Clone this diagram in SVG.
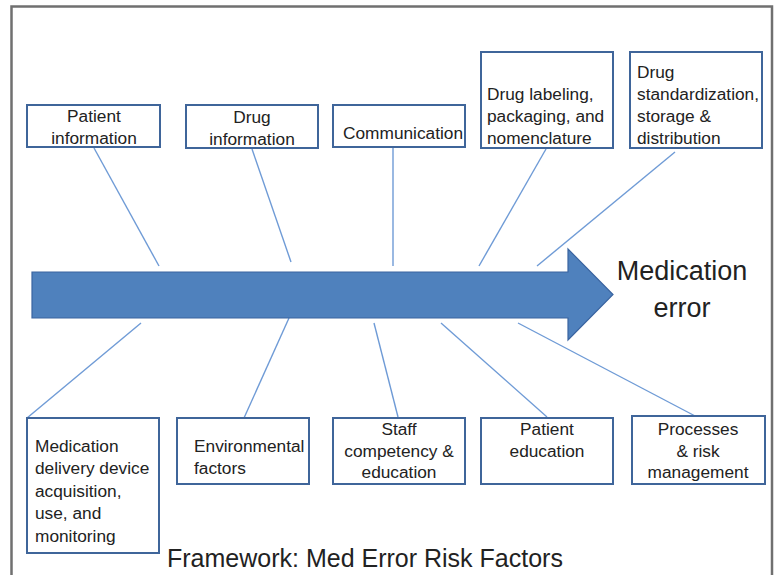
<svg xmlns="http://www.w3.org/2000/svg" width="776" height="575" viewBox="0 0 776 575">
<style>
.box{fill:#ffffff;stroke:#3f659a;stroke-width:2}
.t{font-family:"Liberation Sans",Arial,sans-serif;font-size:17.3px;fill:#222222}
.c{text-anchor:middle}
.ln{stroke:#6f9bd6;stroke-width:1.4;fill:none}
</style>
<rect x="0" y="0" width="776" height="575" fill="#ffffff"/>
<rect x="11.5" y="6.5" width="760.5" height="580" fill="#ffffff" stroke="#707070" stroke-width="2.5"/>
<g id="connectors">
<line class="ln" x1="94" y1="148" x2="159" y2="266"/>
<line class="ln" x1="252" y1="149" x2="291" y2="262"/>
<line class="ln" x1="393" y1="148" x2="393" y2="266"/>
<line class="ln" x1="546" y1="149" x2="479" y2="266"/>
<line class="ln" x1="675" y1="152" x2="537" y2="266"/>
<line class="ln" x1="141" y1="323" x2="27" y2="418"/>
<line class="ln" x1="289" y1="318" x2="244" y2="418"/>
<line class="ln" x1="374" y1="323" x2="398" y2="417"/>
<line class="ln" x1="441" y1="323" x2="547" y2="417"/>
<line class="ln" x1="518" y1="323" x2="697" y2="417"/>
</g>
<g id="arrow">
<polygon points="32,272 568,272 568,249 613,294.5 568,340 568,318 32,318" fill="#4f81bd" stroke="#3a64a0" stroke-width="1.2"/>
</g>
<g id="result">
<text class="t c" x="682" y="280" style="font-size:27px">Medication</text>
<text class="t c" x="682" y="317" style="font-size:27px">error</text>
</g>
<g id="patient-information">
<rect class="box" x="27" y="105" width="133" height="42"/>
<text class="t c" x="94" y="122">Patient</text>
<text class="t c" x="94" y="144">information</text>
</g>
<g id="drug-information">
<rect class="box" x="186" y="105" width="132" height="43"/>
<text class="t c" x="252" y="123">Drug</text>
<text class="t c" x="252" y="145">information</text>
</g>
<g id="communication">
<rect class="box" x="333" y="105" width="132" height="42"/>
<text class="t" x="343" y="139">Communication</text>
</g>
<g id="drug-labeling">
<rect class="box" x="481" y="52" width="132" height="96"/>
<text class="t" x="487" y="100">Drug labeling,</text>
<text class="t" x="487" y="122">packaging, and</text>
<text class="t" x="487" y="144">nomenclature</text>
</g>
<g id="drug-standardization">
<rect class="box" x="630" y="52" width="132" height="96"/>
<text class="t" x="637" y="78">Drug</text>
<text class="t" x="637" y="100">standardization,</text>
<text class="t" x="637" y="122">storage &amp;</text>
<text class="t" x="637" y="144">distribution</text>
</g>
<g id="medication-delivery">
<rect class="box" x="27" y="418" width="132" height="135"/>
<text class="t" x="35" y="452">Medication</text>
<text class="t" x="35" y="474">delivery device</text>
<text class="t" x="35" y="497">acquisition,</text>
<text class="t" x="35" y="519">use, and</text>
<text class="t" x="35" y="542">monitoring</text>
</g>
<g id="environmental-factors">
<rect class="box" x="177" y="418" width="132" height="66"/>
<text class="t" x="194" y="452">Environmental</text>
<text class="t" x="194" y="474">factors</text>
</g>
<g id="staff-competency">
<rect class="box" x="333" y="418" width="132" height="66"/>
<text class="t c" x="399" y="435">Staff</text>
<text class="t c" x="399" y="457">competency &amp;</text>
<text class="t c" x="399" y="478">education</text>
</g>
<g id="patient-education">
<rect class="box" x="481" y="418" width="132" height="66"/>
<text class="t c" x="547" y="435">Patient</text>
<text class="t c" x="547" y="457">education</text>
</g>
<g id="processes">
<rect class="box" x="632" y="416" width="133" height="68"/>
<text class="t c" x="698" y="435">Processes</text>
<text class="t c" x="698" y="457">&amp; risk</text>
<text class="t c" x="698" y="478">management</text>
</g>
<text class="t" x="167" y="567" style="font-size:25px">Framework: Med Error Risk Factors</text>
</svg>
